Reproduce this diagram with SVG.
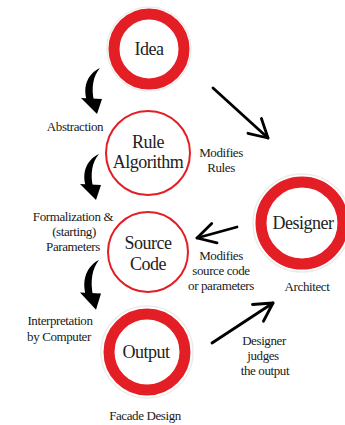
<svg xmlns="http://www.w3.org/2000/svg" xmlns:xlink="http://www.w3.org/1999/xlink" width="345" height="425" viewBox="0 0 345 425">
<style>
.ring{fill:none;stroke:#e31e25;stroke-width:11}
.halo{fill:none;stroke:#ececec;stroke-width:1.5}
.thin{fill:#fff;stroke:#e31e25;stroke-width:2}
.nt{font-family:"Liberation Serif","Times New Roman","DejaVu Serif",serif;font-size:18px;letter-spacing:-0.5px;fill:#222;text-anchor:middle}
.lb{font-family:"Liberation Serif","Times New Roman","DejaVu Serif",serif;font-size:13px;letter-spacing:-0.4px;fill:#1a1a1a;text-anchor:middle}
.ln{fill:none;stroke:#000;stroke-width:2.8;stroke-linecap:round}
</style>
<defs>
<marker id="oh" markerUnits="userSpaceOnUse" viewBox="0 0 24 24" refX="21" refY="12" markerWidth="24" markerHeight="24" orient="auto">
<path d="M3,2 L21,12 L3,22" fill="none" stroke="#000" stroke-width="2.8" stroke-linecap="round" stroke-linejoin="round"/>
</marker>
<g id="carrow" fill="#000">
<path d="M0,0 C-11,5 -18,17 -13,33 L-6,33 C-9,20 -7,8 0,0 Z"/>
<path d="M-19,30 L2,31 L-3,46 Z"/>
</g>
</defs>
<rect width="345" height="425" fill="#fff"/>
<g id="connectors">
<use xlink:href="#carrow" transform="translate(100,68)"/>
<use xlink:href="#carrow" transform="translate(99,154)"/>
<use xlink:href="#carrow" transform="translate(99,260) scale(1,1.08)"/>
<line class="ln" x1="213" y1="88" x2="268" y2="138" marker-end="url(#oh)"/>
<line class="ln" x1="237" y1="227" x2="197" y2="238" marker-end="url(#oh)"/>
<line class="ln" x1="212" y1="343" x2="273" y2="303" marker-end="url(#oh)"/>
</g>
<g id="idea">
<circle class="halo" cx="149" cy="49" r="42"/>
<circle class="ring" cx="149" cy="49" r="35"/>
<text class="nt" x="149" y="55">Idea</text>
</g>
<g id="rule">
<circle class="thin" cx="148" cy="153" r="42"/>
<text class="nt" x="148" y="148">Rule</text>
<text class="nt" x="148" y="168">Algorithm</text>
</g>
<g id="source">
<circle class="thin" cx="148" cy="252" r="40"/>
<text class="nt" x="148" y="249">Source</text>
<text class="nt" x="148" y="270">Code</text>
</g>
<g id="output">
<circle class="halo" cx="147" cy="352" r="46"/>
<circle class="ring" cx="147" cy="352" r="38"/>
<text class="nt" x="146" y="358">Output</text>
</g>
<g id="designer">
<circle class="halo" cx="302" cy="223" r="49"/>
<circle class="ring" cx="302" cy="223" r="41"/>
<text class="nt" x="303" y="229">Designer</text>
</g>
<g id="labels">
<text class="lb" x="75" y="131">Abstraction</text>
<text class="lb" x="221" y="157">Modifies</text>
<text class="lb" x="221" y="172">Rules</text>
<text class="lb" x="73" y="221">Formalization &amp;</text>
<text class="lb" x="74" y="236">(starting)</text>
<text class="lb" x="73" y="251">Parameters</text>
<text class="lb" x="221" y="260">Modifies</text>
<text class="lb" x="221" y="275">source code</text>
<text class="lb" x="221" y="290">or parameters</text>
<text class="lb" x="307" y="291">Architect</text>
<text class="lb" x="60" y="325">Interpretation</text>
<text class="lb" x="59" y="341">by Computer</text>
<text class="lb" x="264" y="345">Designer</text>
<text class="lb" x="263" y="360">judges</text>
<text class="lb" x="265" y="375">the output</text>
<text class="lb" x="145" y="420">Facade Design</text>
</g>
</svg>
